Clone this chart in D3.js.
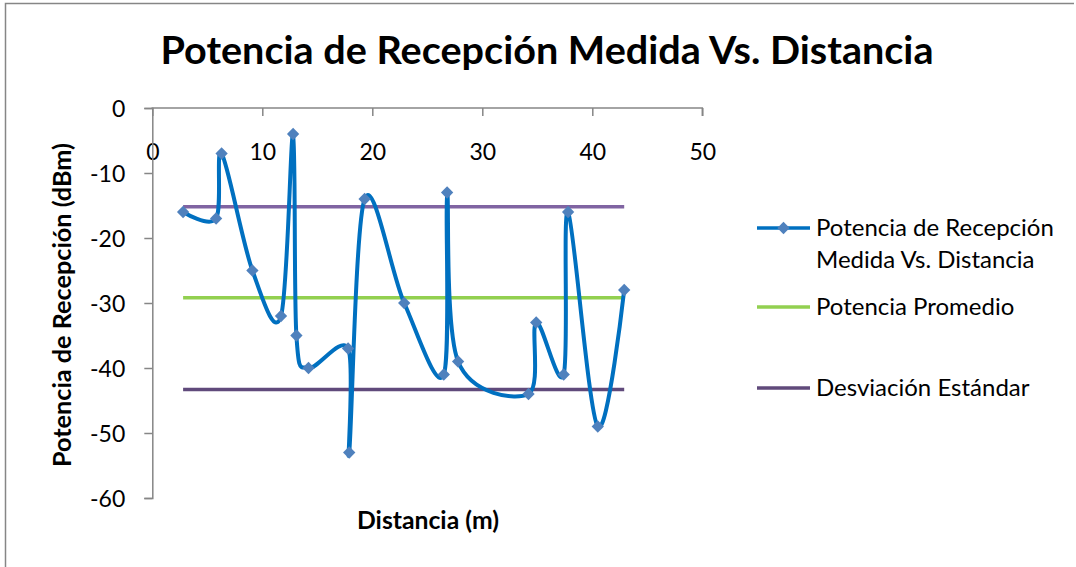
<!DOCTYPE html>
<html>
<head>
<meta charset="utf-8">
<script src="https://cdn.jsdelivr.net/npm/d3@7"></script>
<style>
  html, body { margin: 0; padding: 0; background: #fff; }
  svg { display: block; }
  text { font-family: Lato, "Open Sans", sans-serif; fill: #000; }
</style>
</head>
<body>
<svg id="chart" width="1076" height="567"></svg>
<script>
// Measured received power vs. distance
const distances = [2.8, 5.8, 6.3, 9.1, 11.7, 12.8, 13.1, 14.2, 17.8, 17.9, 19.3, 22.9, 26.5, 26.8, 27.8, 34.2, 34.9, 37.4, 37.8, 40.5, 42.9];
const powers    = [-16, -17, -7, -25, -32, -4, -35, -40, -37, -53, -14, -30, -41, -13, -39, -44, -33, -41, -16, -49, -28];

// Reference lines (average and ± standard deviation), drawn across the measured range
const refSpan   = [2.8, 42.9];
const avgPower  = -29.2;
const stdUpper  = -15.2;
const stdLower  = -43.3;

const xTicks = [0, 10, 20, 30, 40, 50];
const yTicks = [0, -10, -20, -30, -40, -50, -60];

const titleText  = "Potencia de Recepción Medida Vs. Distancia";
const xTitle     = "Distancia (m)";
const yTitle     = "Potencia de Recepción (dBm)";
const legendText = [["Potencia de Recepción", "Medida Vs. Distancia"], ["Potencia Promedio"], ["Desviación Estándar"]];

const svg = d3.select("#chart");
const axisGrey = "#868686";

// chart frame
svg.append("path")
  .attr("d", "M5.5,600 V3.5 H1074")
  .attr("fill", "none").attr("stroke", axisGrey).attr("stroke-width", 1.5);

const x = d3.scaleLinear().domain([0, 50]).range([152.3, 702.3]);
const y = d3.scaleLinear().domain([0, -60]).range([108, 498]);

// title
svg.append("text")
  .attr("x", 547).attr("y", 64)
  .attr("text-anchor", "middle")
  .attr("font-weight", "bold").attr("font-size", 39)
  .attr("textLength", 773).attr("lengthAdjust", "spacingAndGlyphs")
  .text(titleText);

// top x axis (crosses at 0)
const xAxis = svg.append("g").attr("transform", `translate(0,${y(0)})`)
  .call(d3.axisBottom(x).tickValues(xTicks).tickSize(8).tickFormat(d3.format("d")));
xAxis.select(".domain").attr("stroke", axisGrey).attr("stroke-width", 1.5).attr("d", `M${x(0)},0.5V0H${x(50)}V8`);
xAxis.selectAll(".tick line").attr("stroke", axisGrey).attr("stroke-width", 1.5);
xAxis.selectAll(".tick text")
  .attr("y", 52).attr("dy", 0)
  .attr("font-family", "Lato, sans-serif").attr("font-size", 23).attr("fill", "#000");

// left y axis
const yAxis = svg.append("g").attr("transform", `translate(${x(0)},0)`)
  .call(d3.axisLeft(y).tickValues(yTicks).tickSize(8).tickFormat(d3.format("d")));
yAxis.select(".domain").attr("stroke", axisGrey).attr("stroke-width", 1.5);
yAxis.selectAll(".tick line").attr("stroke", axisGrey).attr("stroke-width", 1.5);
yAxis.selectAll(".tick text")
  .attr("x", -27).attr("dy", "0.36em")
  .attr("font-family", "Lato, sans-serif").attr("font-size", 23).attr("fill", "#000")
  .text(d => d === 0 ? "0" : "-" + Math.abs(d));

// axis titles
svg.append("text")
  .attr("x", 428).attr("y", 529)
  .attr("text-anchor", "middle").attr("font-weight", "bold").attr("font-size", 24)
  .attr("textLength", 142).attr("lengthAdjust", "spacingAndGlyphs")
  .text(xTitle);
svg.append("text")
  .attr("transform", "translate(71,305) rotate(-90)")
  .attr("text-anchor", "middle").attr("font-weight", "bold").attr("font-size", 24)
  .attr("textLength", 324).attr("lengthAdjust", "spacingAndGlyphs")
  .text(yTitle);

// reference lines
const flat = v => refSpan.map(d => [d, v]);
const straight = d3.line().x(d => x(d[0])).y(d => y(d[1]));
svg.append("path").attr("d", straight(flat(stdUpper)))
  .attr("fill", "none").attr("stroke", "#8064A2").attr("stroke-width", 3.5);
svg.append("path").attr("d", straight(flat(avgPower)))
  .attr("fill", "none").attr("stroke", "#92D050").attr("stroke-width", 3.5);
svg.append("path").attr("d", straight(flat(stdLower)))
  .attr("fill", "none").attr("stroke", "#604A7B").attr("stroke-width", 3.5);

// measured series, smoothed
const pts = distances.map((d, i) => [d, powers[i]]);
const smooth = d3.line().x(d => x(d[0])).y(d => y(d[1])).curve(d3.curveCardinal.tension(0));
svg.append("path").attr("d", smooth(pts))
  .attr("fill", "none").attr("stroke", "#0070C0").attr("stroke-width", 4)
  .attr("stroke-linejoin", "round").attr("stroke-linecap", "round");

const diamond = d3.symbol().type(d3.symbolSquare).size(76);
svg.append("g").selectAll("path").data(pts).join("path")
  .attr("transform", d => `translate(${x(d[0])},${y(d[1])}) rotate(45)`)
  .attr("d", diamond())
  .attr("fill", "#4F81BD");

// legend
const lg = svg.append("g");
const legendRows = [
  { y: 228, color: "#0070C0", marker: true,  w: [240, 226] },
  { y: 307, color: "#92D050", marker: false, w: [205] },
  { y: 388, color: "#604A7B", marker: false, w: [216] }
];
legendRows.forEach((r, i) => {
  lg.append("line").attr("x1", 757).attr("x2", 810).attr("y1", r.y).attr("y2", r.y)
    .attr("stroke", r.color).attr("stroke-width", 3.5);
  if (r.marker) {
    lg.append("path").attr("transform", `translate(783.5,${r.y}) rotate(45)`)
      .attr("d", diamond())
      .attr("fill", "#4F81BD");
  }
  legendText[i].forEach((t, j) => {
    lg.append("text").attr("x", 816).attr("y", r.y + j * 32).attr("dy", "0.35em")
      .attr("font-size", 24).text(t);
  });
});
</script>
</body>
</html>
